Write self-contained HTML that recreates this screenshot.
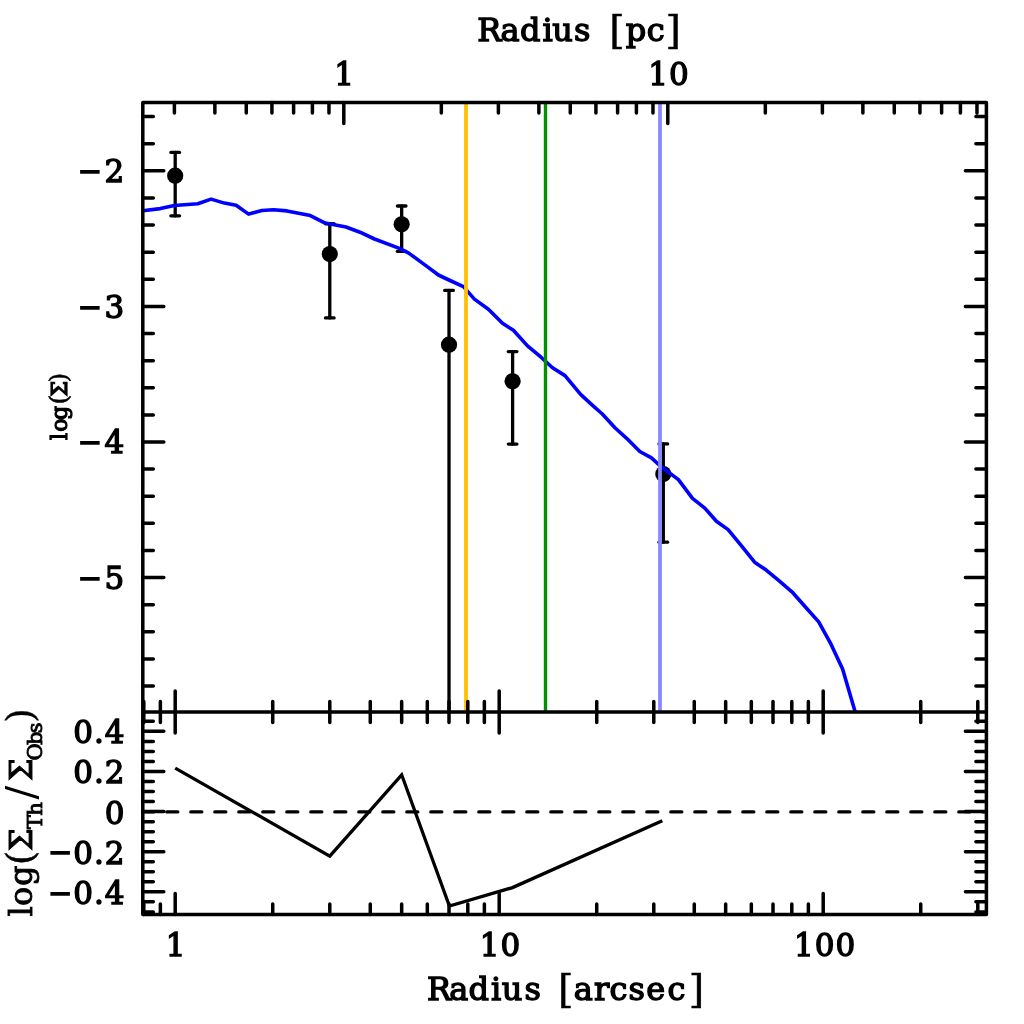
<!DOCTYPE html>
<html><head><meta charset="utf-8"><title>Surface density profile</title>
<style>html,body{margin:0;padding:0;background:#fff;width:1024px;height:1024px;overflow:hidden}svg{display:block}</style>
</head><body>
<svg width="1024" height="1024" viewBox="0 0 1024 1024"><g stroke="#000" stroke-width="3.3" stroke-linecap="round">
<line x1="175.2" y1="152.4" x2="175.2" y2="215.8"/>
<line x1="170.9" y1="152.4" x2="179.5" y2="152.4"/>
<line x1="170.9" y1="215.8" x2="179.5" y2="215.8"/>
<line x1="329.79" y1="223.75" x2="329.79" y2="317.9"/>
<line x1="325.49" y1="223.75" x2="334.09" y2="223.75"/>
<line x1="325.49" y1="317.9" x2="334.09" y2="317.9"/>
<line x1="401.67" y1="206" x2="401.67" y2="251.3"/>
<line x1="397.37" y1="206" x2="405.97" y2="206"/>
<line x1="397.37" y1="251.3" x2="405.97" y2="251.3"/>
<line x1="449.01" y1="290.4" x2="449.01" y2="711.9"/>
<line x1="444.71" y1="290.4" x2="453.31" y2="290.4"/>
<line x1="512.61" y1="351.6" x2="512.61" y2="444.1"/>
<line x1="508.31" y1="351.6" x2="516.91" y2="351.6"/>
<line x1="508.31" y1="444.1" x2="516.91" y2="444.1"/>
<line x1="663.3" y1="443.9" x2="663.3" y2="542.2"/>
<line x1="659" y1="443.9" x2="667.6" y2="443.9"/>
<line x1="659" y1="542.2" x2="667.6" y2="542.2"/>
</g>
<g fill="#000">
<circle cx="175.2" cy="175.7" r="8.1"/>
<circle cx="329.79" cy="254.1" r="8.1"/>
<circle cx="401.67" cy="224.3" r="8.1"/>
<circle cx="449.01" cy="344.7" r="8.1"/>
<circle cx="512.61" cy="381.3" r="8.1"/>
<circle cx="663.3" cy="474" r="8.1"/>
</g>
<polyline fill="none" stroke="#0000ff" stroke-width="3.6" stroke-linejoin="round" points="142.8,210.8 160.3,208.6 174.4,205.5 197.8,203.75 211.1,199.1 224.4,203.1 236.1,205.3 248.6,214.1 261.9,210.5 273.6,209.7 286.9,210.9 310.3,215.6 325.2,223.1 346,227 360,232.2 374.5,239 399.4,248.4 408.75,253.1 425.9,265.6 438.4,275 450,280.5 463.4,286.6 474.4,299.1 488.4,309.2 502.5,323.3 513.4,330.3 527.5,345.9 541.6,357.7 552.5,367.8 565,375.6 580.6,394.4 591.7,404.6 602.3,414 615.2,428 626.9,438.6 639.8,451.5 651.5,457.9 659.7,465.5 669.1,472.6 678.4,479.6 692.5,498.4 704.8,508.1 716.4,521.3 728.1,529.6 741.3,545.6 754.6,562.2 766.2,570.1 779.5,581.1 792.8,592.7 806.1,607.7 818.7,621.9 831,644.2 842.6,669.1 855.2,712"/>
<line x1="466" y1="102.5" x2="466" y2="711.9" stroke="#ffc000" stroke-width="3.8" />
<line x1="545.5" y1="102.5" x2="545.5" y2="711.9" stroke="#009000" stroke-width="3.4" />
<line x1="660" y1="102.5" x2="660" y2="711.9" stroke="#8a8aff" stroke-width="3.8" />
<polyline fill="none" stroke="#000" stroke-width="3.3" stroke-linejoin="miter" points="175.2,768.1 329.79,856.1 401.67,774.8 449.4,906.1 512.5,887.6 662.3,820.8"/>
<line x1="142.8" y1="811.9" x2="986.4" y2="811.9" stroke="#000" stroke-width="3.3" stroke-dasharray="11 13" stroke-linecap="round"/>
<g stroke="#000" stroke-width="3.5" stroke-linecap="round" fill="none">
<path d="M142.8,102.5 H986.4 V914.6 H142.8 Z M142.8,711.9 H986.4" stroke-linejoin="round"/>
<path d="M143.8,711.9v-10.5M143.8,711.9v10.5M143.8,914.6v-10.5M160.37,711.9v-10.5M160.37,711.9v10.5M160.37,914.6v-10.5M175.2,711.9v-21M175.2,711.9v21M175.2,914.6v-21M272.73,711.9v-10.5M272.73,711.9v10.5M272.73,914.6v-10.5M329.79,711.9v-10.5M329.79,711.9v10.5M329.79,914.6v-10.5M370.27,711.9v-10.5M370.27,711.9v10.5M370.27,914.6v-10.5M401.67,711.9v-10.5M401.67,711.9v10.5M401.67,914.6v-10.5M427.32,711.9v-10.5M427.32,711.9v10.5M427.32,914.6v-10.5M449.01,711.9v-10.5M449.01,711.9v10.5M449.01,914.6v-10.5M467.8,711.9v-10.5M467.8,711.9v10.5M467.8,914.6v-10.5M484.37,711.9v-10.5M484.37,711.9v10.5M484.37,914.6v-10.5M499.2,711.9v-21M499.2,711.9v21M499.2,914.6v-21M596.73,711.9v-10.5M596.73,711.9v10.5M596.73,914.6v-10.5M653.79,711.9v-10.5M653.79,711.9v10.5M653.79,914.6v-10.5M694.27,711.9v-10.5M694.27,711.9v10.5M694.27,914.6v-10.5M725.67,711.9v-10.5M725.67,711.9v10.5M725.67,914.6v-10.5M751.32,711.9v-10.5M751.32,711.9v10.5M751.32,914.6v-10.5M773.01,711.9v-10.5M773.01,711.9v10.5M773.01,914.6v-10.5M791.8,711.9v-10.5M791.8,711.9v10.5M791.8,914.6v-10.5M808.37,711.9v-10.5M808.37,711.9v10.5M808.37,914.6v-10.5M823.2,711.9v-21M823.2,711.9v21M823.2,914.6v-21M920.73,711.9v-10.5M920.73,711.9v10.5M920.73,914.6v-10.5M977.79,711.9v-10.5M977.79,711.9v10.5M977.79,914.6v-10.5M174.39,102.5v10.5M214.87,102.5v10.5M246.27,102.5v10.5M271.92,102.5v10.5M293.61,102.5v10.5M312.4,102.5v10.5M328.97,102.5v10.5M343.8,102.5v21M441.33,102.5v10.5M498.39,102.5v10.5M538.87,102.5v10.5M570.27,102.5v10.5M595.92,102.5v10.5M617.61,102.5v10.5M636.4,102.5v10.5M652.97,102.5v10.5M667.8,102.5v21M765.33,102.5v10.5M822.39,102.5v10.5M862.87,102.5v10.5M894.27,102.5v10.5M919.92,102.5v10.5M941.61,102.5v10.5M960.4,102.5v10.5M976.97,102.5v10.5M142.8,686.08h10.5M986.4,686.08h-10.5M142.8,658.96h10.5M986.4,658.96h-10.5M142.8,631.84h10.5M986.4,631.84h-10.5M142.8,604.72h10.5M986.4,604.72h-10.5M142.8,577.6h21M986.4,577.6h-21M142.8,550.48h10.5M986.4,550.48h-10.5M142.8,523.36h10.5M986.4,523.36h-10.5M142.8,496.24h10.5M986.4,496.24h-10.5M142.8,469.12h10.5M986.4,469.12h-10.5M142.8,442h21M986.4,442h-21M142.8,414.88h10.5M986.4,414.88h-10.5M142.8,387.76h10.5M986.4,387.76h-10.5M142.8,360.64h10.5M986.4,360.64h-10.5M142.8,333.52h10.5M986.4,333.52h-10.5M142.8,306.4h21M986.4,306.4h-21M142.8,279.28h10.5M986.4,279.28h-10.5M142.8,252.16h10.5M986.4,252.16h-10.5M142.8,225.04h10.5M986.4,225.04h-10.5M142.8,197.92h10.5M986.4,197.92h-10.5M142.8,170.8h21M986.4,170.8h-21M142.8,143.68h10.5M986.4,143.68h-10.5M142.8,116.56h10.5M986.4,116.56h-10.5M142.8,911.9h10.5M986.4,911.9h-10.5M142.8,901.87h10.5M986.4,901.87h-10.5M142.8,891.84h21M986.4,891.84h-21M142.8,881.81h10.5M986.4,881.81h-10.5M142.8,871.78h10.5M986.4,871.78h-10.5M142.8,861.75h10.5M986.4,861.75h-10.5M142.8,851.72h21M986.4,851.72h-21M142.8,841.69h10.5M986.4,841.69h-10.5M142.8,831.66h10.5M986.4,831.66h-10.5M142.8,821.63h10.5M986.4,821.63h-10.5M142.8,811.6h21M986.4,811.6h-21M142.8,801.57h10.5M986.4,801.57h-10.5M142.8,791.54h10.5M986.4,791.54h-10.5M142.8,781.51h10.5M986.4,781.51h-10.5M142.8,771.48h21M986.4,771.48h-21M142.8,761.45h10.5M986.4,761.45h-10.5M142.8,751.42h10.5M986.4,751.42h-10.5M142.8,741.39h10.5M986.4,741.39h-10.5M142.8,731.36h21M986.4,731.36h-21M142.8,721.33h10.5M986.4,721.33h-10.5"/>
</g>
<g font-family="'DejaVu Serif', 'Liberation Serif', serif" fill="#000" stroke="#000" stroke-width="1.4"><text font-size="32"><tspan x="477.13 500.51 520.11 542.54 552.34 573.9 590.33" y="40.6">Radius </tspan><tspan x="609.3" y="42.6" font-size="39.6" stroke-width="0.5">[</tspan><tspan x="625.78 646.71" y="40.6">pc</tspan><tspan x="665.54" y="42.6" font-size="39.6" stroke-width="0.5">]</tspan></text><text font-size="32"><tspan x="427.03 449.31 468.61 491.04 501.84 524.5 540.93" y="1000.2">Radius </tspan><tspan x="557.9" y="1002.1" font-size="39.6" stroke-width="0.5">[</tspan><tspan x="573.71 593.94 609.61 628.5 646.31 667.51" y="1000.2">arcsec</tspan><tspan x="688.74" y="1002.1" font-size="39.6" stroke-width="0.5">]</tspan></text><text x="344.6" y="85.3" text-anchor="middle" font-size="31" letter-spacing="1">1</text><text x="668.9" y="85.3" text-anchor="middle" font-size="31" letter-spacing="1">10</text><text x="176.2" y="955.8" text-anchor="middle" font-size="31" letter-spacing="1">1</text><text x="500.4" y="955.8" text-anchor="middle" font-size="31" letter-spacing="1">10</text><text x="825.1" y="955.8" text-anchor="middle" font-size="31" letter-spacing="1">100</text><text y="182.2" font-size="31"><tspan x="77.83" dy="-1.3" font-size="29">−</tspan><tspan x="125.3" dy="1.3" text-anchor="end" letter-spacing="1">2</tspan></text><text y="317.8" font-size="31"><tspan x="77.83" dy="-1.3" font-size="29">−</tspan><tspan x="125.3" dy="1.3" text-anchor="end" letter-spacing="1">3</tspan></text><text y="453.4" font-size="31"><tspan x="77.83" dy="-1.3" font-size="29">−</tspan><tspan x="125.3" dy="1.3" text-anchor="end" letter-spacing="1">4</tspan></text><text y="589" font-size="31"><tspan x="77.83" dy="-1.3" font-size="29">−</tspan><tspan x="125.3" dy="1.3" text-anchor="end" letter-spacing="1">5</tspan></text><text y="743.36" font-size="31"><tspan x="125.5" text-anchor="end" letter-spacing="1">0.4</tspan></text><text y="783.48" font-size="31"><tspan x="125.5" text-anchor="end" letter-spacing="1">0.2</tspan></text><text y="823.6" font-size="31"><tspan x="125.5" text-anchor="end" letter-spacing="1">0</tspan></text><text y="863.72" font-size="31"><tspan x="48.03" dy="-1.3" font-size="29">−</tspan><tspan x="125.5" dy="1.3" text-anchor="end" letter-spacing="1">0.2</tspan></text><text y="903.84" font-size="31"><tspan x="48.03" dy="-1.3" font-size="29">−</tspan><tspan x="125.5" dy="1.3" text-anchor="end" letter-spacing="1">0.4</tspan></text><text transform="rotate(-90)" stroke-width="1.2" font-size="22"><tspan x="-439.93 -431.8 -420.1" y="66.8">log</tspan><tspan x="-404.56" y="66.8" font-size="24.8" stroke-width="0.6">(</tspan><tspan x="-396.44" y="66.8">Σ</tspan><tspan x="-382.46" y="66.8" font-size="24.8" stroke-width="0.6">)</tspan></text><text transform="rotate(-90)" stroke-width="0.9" font-size="32"><tspan x="-916.42 -905.89 -885.89" y="31.7">log</tspan><tspan x="-865.31" y="32.9" font-size="38" stroke-width="0.3">(</tspan><tspan x="-850.9" y="31.7">Σ</tspan><tspan x="-829.31 -815.76" y="42" font-size="21">Th</tspan><tspan x="-799.6" y="34.8" font-size="41" stroke-width="0">/</tspan><tspan x="-781.1" y="31.7">Σ</tspan><tspan x="-760.48 -744.9 -733.28" y="42" font-size="21">Obs</tspan><tspan x="-722.99" y="33.1" font-size="38" stroke-width="0.3">)</tspan></text></g></svg>
</body></html>
